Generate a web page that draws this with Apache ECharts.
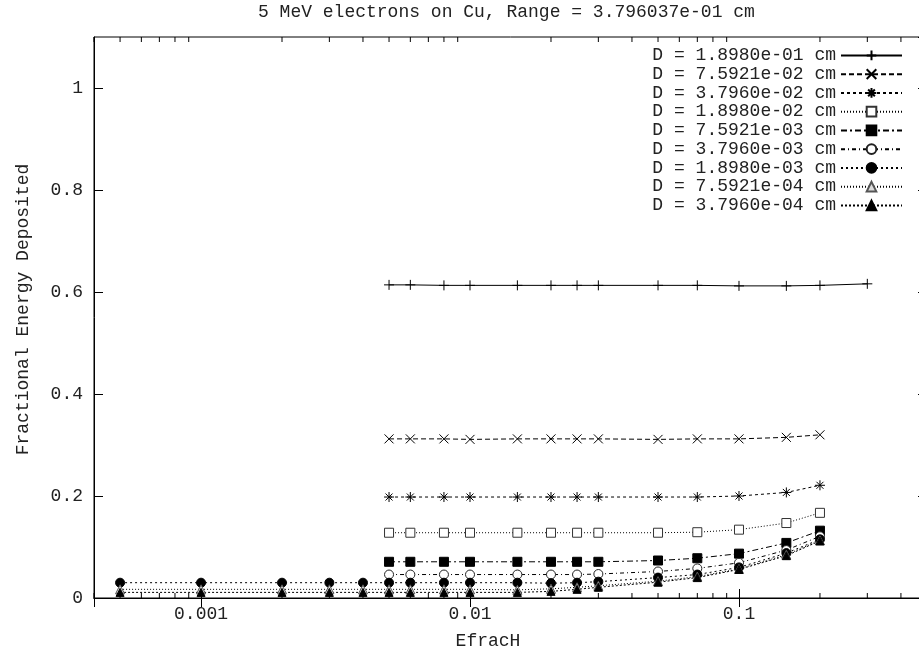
<!DOCTYPE html>
<html>
<head>
<meta charset="utf-8">
<script src="https://cdn.jsdelivr.net/npm/echarts@6/dist/echarts.min.js"></script>
<style>html,body{margin:0;padding:0;background:#fff;overflow:hidden;width:919px;height:655px}#c{width:927px;height:655px}</style>
</head>
<body>
<div id="c"></div>
<script>
// ---- data ----
const titleText = '5 MeV electrons on Cu, Range = 3.796037e-01 cm';
const xName = 'EfracH';
const yName = 'Fractional Energy Deposited';
const seriesNames = [
  'D = 1.8980e-01 cm', 'D = 7.5921e-02 cm', 'D = 3.7960e-02 cm',
  'D = 1.8980e-02 cm', 'D = 7.5921e-03 cm', 'D = 3.7960e-03 cm',
  'D = 1.8980e-03 cm', 'D = 7.5921e-04 cm', 'D = 3.7960e-04 cm'
];
const xTop = [0.005, 0.006, 0.008, 0.01, 0.015, 0.02, 0.025, 0.03, 0.05, 0.07, 0.1, 0.15, 0.2, 0.3];
const xMid = [0.005, 0.006, 0.008, 0.01, 0.015, 0.02, 0.025, 0.03, 0.05, 0.07, 0.1, 0.15, 0.2];
const xLow = [0.0005, 0.001, 0.002, 0.003, 0.004, 0.005, 0.006, 0.008, 0.01, 0.015, 0.02, 0.025, 0.03, 0.05, 0.07, 0.1, 0.15, 0.2];

const y1 = [0.614, 0.614, 0.613, 0.613, 0.613, 0.613, 0.613, 0.613, 0.613, 0.613, 0.612, 0.612, 0.613, 0.616];
const y2 = [0.312, 0.312, 0.312, 0.311, 0.312, 0.312, 0.312, 0.312, 0.311, 0.312, 0.312, 0.315, 0.320];
const y3 = [0.198, 0.198, 0.198, 0.198, 0.198, 0.198, 0.198, 0.198, 0.198, 0.198, 0.200, 0.207, 0.221];
const y4 = [0.128, 0.128, 0.128, 0.128, 0.128, 0.128, 0.128, 0.128, 0.128, 0.129, 0.134, 0.147, 0.167];
const y5 = [0.071, 0.071, 0.071, 0.071, 0.071, 0.071, 0.071, 0.071, 0.0735, 0.078, 0.087, 0.108, 0.132];
const y6 = [0.046, 0.046, 0.046, 0.046, 0.046, 0.046, 0.046, 0.047, 0.052, 0.058, 0.069, 0.094, 0.121];
const y7 = [0.030, 0.030, 0.030, 0.030, 0.030, 0.030, 0.030, 0.030, 0.030, 0.030, 0.029, 0.030, 0.032, 0.040, 0.046, 0.060, 0.088, 0.115];
const y8 = [0.017, 0.017, 0.017, 0.017, 0.017, 0.017, 0.017, 0.017, 0.017, 0.016, 0.018, 0.021, 0.024, 0.033, 0.042, 0.057, 0.085, 0.113];
const y9 = [0.011, 0.011, 0.011, 0.011, 0.011, 0.011, 0.011, 0.011, 0.011, 0.011, 0.013, 0.017, 0.021, 0.031, 0.040, 0.056, 0.083, 0.112];

const xMinorTicks = [0.0004, 0.0005, 0.0006, 0.0007, 0.0008, 0.0009,
  0.002, 0.003, 0.004, 0.005, 0.006, 0.007, 0.008, 0.009,
  0.02, 0.03, 0.04, 0.05, 0.06, 0.07, 0.08, 0.09,
  0.2, 0.3, 0.4, 0.5];

// ---- styles ----
const FONT = '"Liberation Mono", "DejaVu Sans Mono", monospace';
const FS = 18;
const TXT = '#222';
const plus = 'path://M0,5L10,5M5,0L5,10';
const cross = 'path://M0,0L10,10M10,0L0,10';
const star = 'path://M0,5L10,5M5,0L5,10M1.5,1.5L8.5,8.5M8.5,1.5L1.5,8.5';
const pairs = [
  [xTop, y1, plus, 10, 'solid', '#000', 'none'],
  [xMid, y2, cross, 9, [5, 3], '#000', 'none'],
  [xMid, y3, star, 10, [3, 3], '#000', 'none'],
  [xMid, y4, 'rect', 9, [1, 2], '#333', '#fff'],
  [xMid, y5, 'rect', 9, [6, 3, 2, 3], '#000', '#000'],
  [xMid, y6, 'circle', 9, [4, 3, 1, 3], '#222', '#fff'],
  [xLow, y7, 'circle', 9, [2, 3], '#000', '#000'],
  [xLow, y8, 'triangle', 9, [1, 2], '#555', '#ddd'],
  [xLow, y9, 'triangle', 8, [2, 2], '#000', '#000']
];

const series = pairs.map((p, i) => ({
  name: seriesNames[i],
  type: 'line',
  data: p[0].map((x, j) => [x, p[1][j]]),
  symbol: p[2],
  symbolSize: p[3],
  showAllSymbol: true,
  lineStyle: { color: '#000', width: 1, type: p[4] },
  itemStyle: { color: p[6], borderColor: p[5], borderWidth: 1 },
  emphasis: { disabled: true },
  animation: false,
  z: 3
}));

series.push({
  type: 'custom',
  data: xMinorTicks.map(v => [v, 0]),
  silent: true,
  clip: false,
  z: 4,
  renderItem: function (params, api) {
    const v = api.value(0);
    const b = api.coord([v, 0]);
    const t = api.coord([v, 1.1]);
    const st = { stroke: '#000', lineWidth: 1 };
    return {
      type: 'group',
      children: [
        { type: 'line', shape: { x1: b[0], y1: b[1], x2: b[0], y2: b[1] - 5 }, style: st },
        { type: 'line', shape: { x1: t[0], y1: t[1], x2: t[0], y2: t[1] + 5 }, style: st }
      ]
    };
  }
});

const chart = echarts.init(document.getElementById('c'), null, { renderer: 'canvas' });
chart.setOption({
  animation: false,
  backgroundColor: '#fff',
  title: {
    text: titleText,
    left: 253, top: -2,
    textStyle: { fontFamily: FONT, fontSize: FS, fontWeight: 'normal', color: TXT }
  },
  grid: { left: 94, top: 37, right: 0, bottom: 57, show: true, borderColor: '#000', borderWidth: 1 },
  legend: {
    data: seriesNames,
    orient: 'vertical',
    right: 24, top: 46, padding: 0,
    align: 'right',
    itemWidth: 61, itemHeight: 12, itemGap: 0,
    textStyle: { fontFamily: FONT, fontSize: FS, color: TXT, lineHeight: 18.75 },
    selectedMode: false
  },
  xAxis: [{
    type: 'log', logBase: 10, min: 0.0004, max: 0.5,
    name: xName, nameLocation: 'middle', nameGap: 34,
    nameTextStyle: { fontFamily: FONT, fontSize: FS, color: TXT, padding: [0, 45, 0, 0] },
    axisLine: { show: true, lineStyle: { color: '#000', width: 1 } },
    axisTick: { show: true, inside: true, length: 9, lineStyle: { color: '#000' } },
    axisLabel: { fontFamily: FONT, fontSize: FS, color: TXT, margin: 7, showMinLabel: false, showMaxLabel: false },
    splitLine: { show: false }
  }, {
    type: 'log', logBase: 10, min: 0.0004, max: 0.5, position: 'top',
    axisLine: { show: true, lineStyle: { color: '#000', width: 1 } },
    axisTick: { show: true, inside: true, length: 9, lineStyle: { color: '#000' } },
    axisLabel: { show: false },
    splitLine: { show: false }
  }],
  yAxis: [{
    type: 'value', min: 0, max: 1.1, interval: 0.2,
    name: yName, nameLocation: 'middle', nameGap: 62, nameRotate: 90,
    nameTextStyle: { fontFamily: FONT, fontSize: FS, color: TXT, padding: [0, 0, 0, 16] },
    axisLine: { show: true, lineStyle: { color: '#000', width: 1 } },
    axisTick: { show: true, inside: true, length: 9, lineStyle: { color: '#000' } },
    axisLabel: { fontFamily: FONT, fontSize: FS, color: TXT, margin: 11, showMaxLabel: false },
    splitLine: { show: false }
  }, {
    type: 'value', min: 0, max: 1.1, interval: 0.2, position: 'right',
    axisLine: { show: true, lineStyle: { color: '#000', width: 1 } },
    axisTick: { show: true, inside: true, length: 9, lineStyle: { color: '#000' } },
    axisLabel: { show: false },
    splitLine: { show: false }
  }],
  series: series
});
</script>
</body>
</html>
